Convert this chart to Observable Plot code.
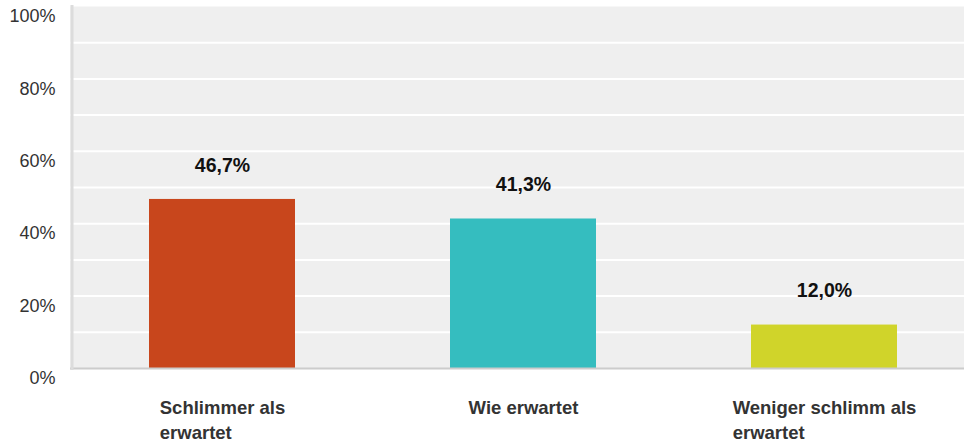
<!DOCTYPE html>
<html>
<head>
<meta charset="utf-8">
<script src="https://cdn.jsdelivr.net/npm/d3@7"></script>
<script src="https://cdn.jsdelivr.net/npm/@observablehq/plot@0.6"></script>
<style>
  html, body { margin: 0; padding: 0; background: #fff; }
  #chart svg { display: block; }
</style>
</head>
<body>
<div id="chart"></div>
<script>
const categories = ["Schlimmer als erwartet", "Wie erwartet", "Weniger schlimm als erwartet"];
const categoryLines = [["Schlimmer als", "erwartet"], ["Wie erwartet"], ["Weniger schlimm als", "erwartet"]];
const values = [46.7, 41.3, 12.0];
const colors = ["#c8461c", "#35bdbf", "#d0d42a"];
const yTicks = [0, 20, 40, 60, 80, 100];
const gridValues = [10, 20, 30, 40, 50, 60, 70, 80, 90];

const FONT = "Arial, 'Liberation Sans', Helvetica, sans-serif";
const data = categories.map((c, i) => ({cat: c, value: values[i], color: colors[i], lines: categoryLines[i]}));

const ctx = document.createElement("canvas").getContext("2d");
ctx.font = `bold 18.5px ${FONT}`;
const blockWidth = (lines) => Math.max(...lines.map(l => ctx.measureText(l).width));

const fmt = v => v.toFixed(1).replace(".", ",") + "%";

const chart = Plot.plot({
  width: 964,
  height: 444,
  marginLeft: 70,
  marginRight: 0,
  marginTop: 6,
  marginBottom: 76,
  style: {fontFamily: FONT, background: "#fff"},
  x: {domain: categories, range: [71, 974], paddingInner: 0.515, paddingOuter: 0.2575, axis: null},
  y: {domain: [0, 100], axis: null},
  marks: [
    Plot.frame({fill: "#efefef", stroke: null}),
    Plot.ruleY(gridValues, {stroke: "#fff", strokeWidth: 2}),
    Plot.barY(data, {x: "cat", y: "value", fill: "color"}),
    Plot.ruleY([0], {stroke: "#cccccc", strokeWidth: 2}),
    Plot.frame({anchor: "left", stroke: "#dcdcdc", strokeWidth: 3, dx: 1.5}),
    Plot.axisY({ticks: yTicks, tickFormat: d => d + "%", tickSize: 0, tickPadding: 15, dy: 10, fontSize: 18, color: "#333", label: null}),
    Plot.text(data, {x: "cat", y: "value", text: d => fmt(d.value), dy: -34, fontSize: 19.5, fontWeight: "bold", fill: "#111"}),
    ...data.map(d => Plot.text([d], {
      x: "cat", frameAnchor: "bottom", text: e => e.lines.join("\n"),
      textAnchor: "start", lineAnchor: "top", lineHeight: 1.35,
      dx: -blockWidth(d.lines) / 2, dy: 28,
      fontSize: 18.5, fontWeight: "bold", fill: "#333"
    }))
  ]
});
document.getElementById("chart").appendChild(chart);
</script>
</body>
</html>
